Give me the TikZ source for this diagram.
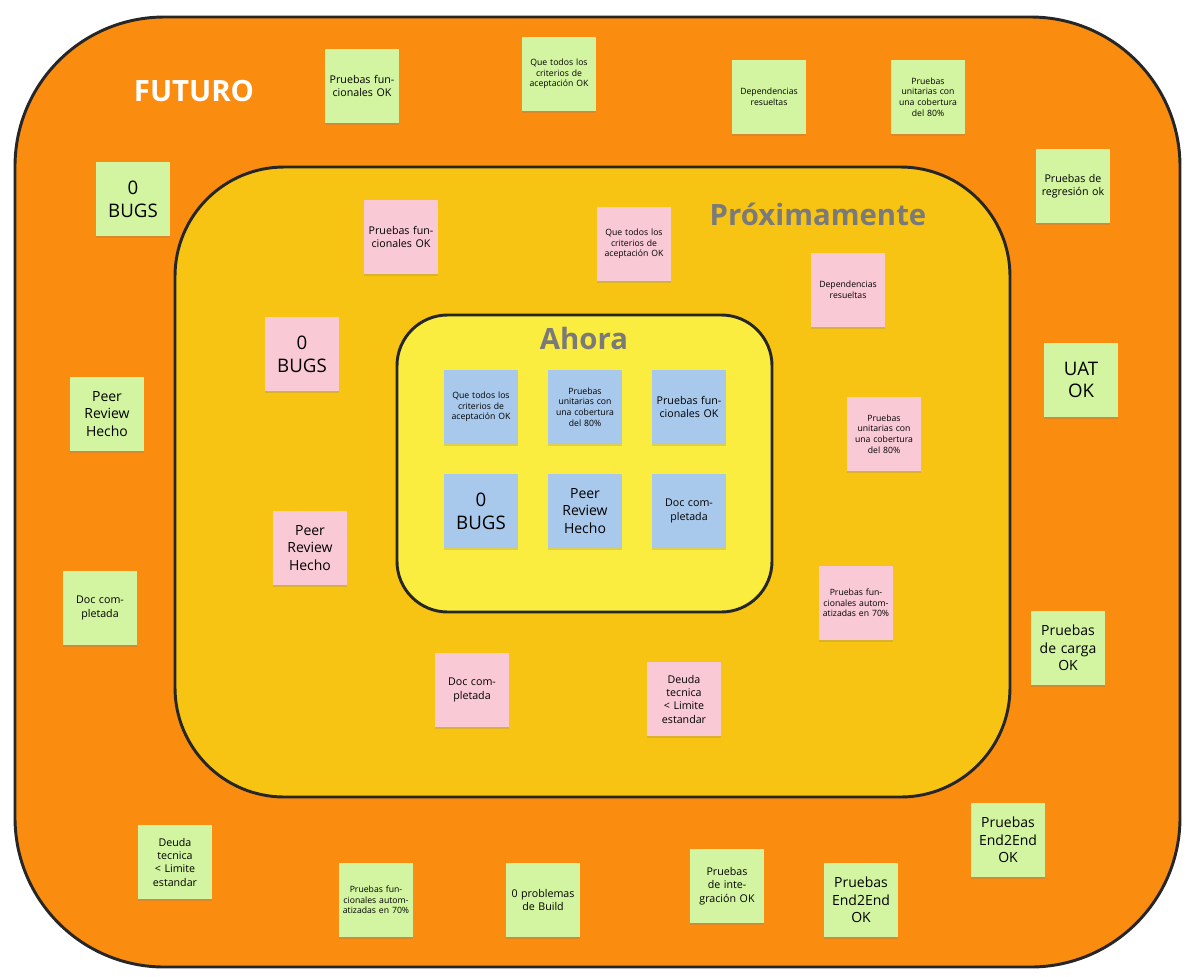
\documentclass[tikz,border=0pt]{standalone}
\usepackage{fontspec}
\setmainfont{Open Sans}
\usetikzlibrary{shadows}
\definecolor{outerc}{HTML}{FA8C10}
\definecolor{midc}{HTML}{F8C413}
\definecolor{innc}{HTML}{FBEC40}
\definecolor{gn}{HTML}{D3F5A2}
\definecolor{pk}{HTML}{F9C9D6}
\definecolor{bl}{HTML}{A9C9EC}
\definecolor{ttl}{HTML}{7A7A7A}
\begin{document}
\begin{tikzpicture}[x=0.75pt,y=-0.75pt,
  frame/.style={draw=black!85,line width=2.2pt},
  note/.style={minimum width=55pt,minimum height=55pt,text width=50pt,align=center,inner sep=1pt,
    drop shadow={shadow xshift=0pt,shadow yshift=-2pt,opacity=0.25}},
  g/.style={note,fill=gn}, p/.style={note,fill=pk}, b/.style={note,fill=bl},
  xs/.style={font=\fontsize{6.5}{8}\selectfont},
  s/.style={font=\fontsize{8}{10}\selectfont},
  m/.style={font=\fontsize{10.5}{13}\selectfont},
  l/.style={font=\fontsize{14}{17}\selectfont},
  title/.style={font=\bfseries\fontsize{22}{26}\selectfont}]
\useasboundingbox (0,0) rectangle (1200,976);
\fill[white] (0,0) rectangle (1200,976);
\draw[frame,fill=outerc,rounded corners=112pt] (15,17) rectangle (1180,967);
\draw[frame,fill=midc,rounded corners=82pt] (175,167) rectangle (1010,797);
\draw[frame,fill=innc,rounded corners=38pt] (397,315) rectangle (772,612);
\node[title,text=white] (tf) at (194,91) {FUTURO};
\node[title,text=ttl] (tp) at (818,214) {Próximamente};
\node[title,text=ttl] (ta) at (584,338) {Ahora};
% outer green
\node[g,s] (g1) at (362,86) {Pruebas funcionales OK};
\node[g,xs] (g2) at (559,74) {Que todos los criterios de aceptación OK};
\node[g,xs] (g3) at (769,97) {Dependencias resueltas};
\node[g,xs] (g4) at (928,97) {Pruebas unitarias con una cobertura del 80\%};
\node[g,s] (g5) at (1073,186) {Pruebas de regresión ok};
\node[g,l] (g6) at (133,199) {0\\BUGS};
\node[g,m] (g7) at (107,414) {Peer Review Hecho};
\node[g,l] (g8) at (1081,380) {UAT\\OK};
\node[g,s] (g9) at (100,608) {Doc completada};
\node[g,m] (g10) at (1068,648) {Pruebas de carga OK};
\node[g,m] (g11) at (1008,840) {Pruebas End2End OK};
\node[g,s] (g12) at (175,862) {Deuda tecnica < Limite estandar};
\node[g,xs] (g13) at (376,900) {Pruebas funcionales automatizadas en 70\%};
\node[g,s] (g14) at (543,900) {0 problemas de Build};
\node[g,s] (g15) at (727,886) {Pruebas de integración OK};
\node[g,m] (g16) at (861,900) {Pruebas End2End OK};
% pink
\node[p,s] (p1) at (401,237) {Pruebas funcionales OK};
\node[p,xs] (p2) at (634,244) {Que todos los criterios de aceptación OK};
\node[p,xs] (p3) at (848,290) {Dependencias resueltas};
\node[p,l] (p4) at (302,354) {0\\BUGS};
\node[p,xs] (p5) at (884,434) {Pruebas unitarias con una cobertura del 80\%};
\node[p,m] (p6) at (310,548) {Peer Review Hecho};
\node[p,xs] (p7) at (856,603) {Pruebas funcionales automatizadas en 70\%};
\node[p,s] (p8) at (472,690) {Doc completada};
\node[p,s] (p9) at (684,699) {Deuda tecnica < Limite estandar};
% blue
\node[b,xs] (b1) at (481,407) {Que todos los criterios de aceptación OK};
\node[b,xs] (b2) at (585,407) {Pruebas unitarias con una cobertura del 80\%};
\node[b,s] (b3) at (689,407) {Pruebas funcionales OK};
\node[b,l] (b4) at (481,511) {0\\BUGS};
\node[b,m] (b5) at (585,511) {Peer Review Hecho};
\node[b,s] (b6) at (689,511) {Doc completada};
\end{tikzpicture}
\end{document}
